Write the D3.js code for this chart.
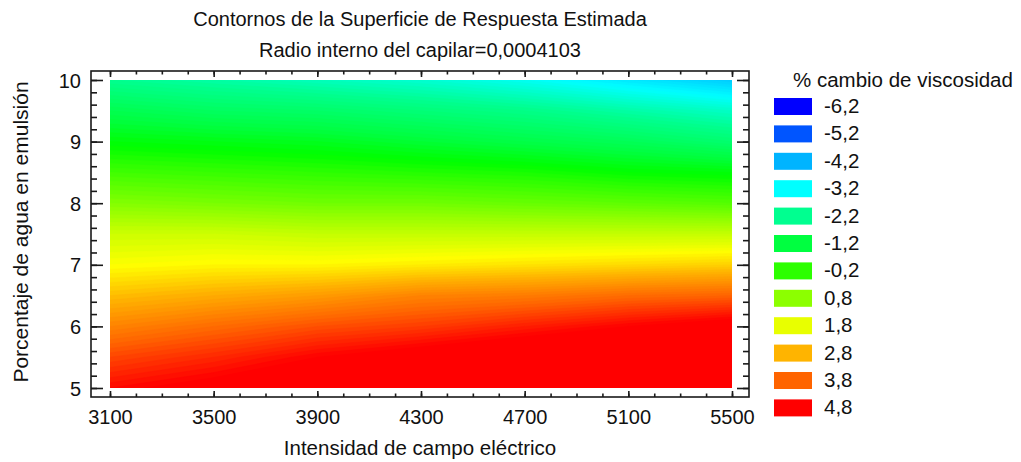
<!DOCTYPE html>
<html>
<head>
<meta charset="utf-8">
<script src="https://cdn.jsdelivr.net/npm/d3@7"></script>
<style>
  html, body { margin: 0; padding: 0; background: #fff; }
  svg { display: block; font-family: "Liberation Sans", Arial, sans-serif; }
</style>
</head>
<body>
<svg id="chart" width="1021" height="462"></svg>
<script>
// ---- data ----
const titleLines = ["Contornos de la Superficie de Respuesta Estimada", "Radio interno del capilar=0,0004103"];
const xTitle = "Intensidad de campo eléctrico";
const yTitle = "Porcentaje de agua en emulsión";
const legendTitle = "% cambio de viscosidad";

// grid columns (x) and rows (y, top to bottom)
const xGrid = [3100, 3500, 3900, 4300, 4700, 5100, 5500];
const yGrid = [10, 9.5, 9, 8.5, 8, 7.5, 7, 6.5, 6, 5.5, 5];
// estimated % change of viscosity, one row per yGrid value
const zRow100 = [-2.2, -2.4, -2.6, -2.8, -3.1, -3.5, -3.9];
const zRow095 = [-1.4, -1.6, -1.7, -1.9, -2.1, -2.4, -2.7];
const zRow090 = [-0.7, -0.8, -0.9, -1.1, -1.3, -1.5, -1.8];
const zRow085 = [0.0, -0.1, -0.2, -0.3, -0.4, -0.6, -0.7];
const zRow080 = [0.7, 0.6, 0.5, 0.5, 0.4, 0.3, 0.2];
const zRow075 = [1.5, 1.5, 1.4, 1.4, 1.4, 1.4, 1.4];
const zRow070 = [2.0, 2.1, 2.1, 2.2, 2.3, 2.4, 2.5];
const zRow065 = [2.7, 2.9, 3.1, 3.4, 3.5, 3.7, 3.8];
const zRow060 = [3.4, 3.7, 4.0, 4.2, 4.5, 4.8, 5.1];
const zRow055 = [4.1, 4.4, 4.8, 5.1, 5.4, 5.6, 5.8];
const zRow050 = [4.7, 5.0, 5.4, 5.8, 6.1, 6.3, 6.5];
const zRows = [zRow100, zRow095, zRow090, zRow085, zRow080, zRow075, zRow070, zRow065, zRow060, zRow055, zRow050];

const xTicks = [3100, 3500, 3900, 4300, 4700, 5100, 5500];
const yTicks = [5, 6, 7, 8, 9, 10];
const legendLevels = [-6.2, -5.2, -4.2, -3.2, -2.2, -1.2, -0.2, 0.8, 1.8, 2.8, 3.8, 4.8];
const legendLabels = ["-6,2", "-5,2", "-4,2", "-3,2", "-2,2", "-1,2", "-0,2", "0,8", "1,8", "2,8", "3,8", "4,8"];
const legendColors = ["#0000ff", "#0055ff", "#00b4ff", "#00ffff", "#00ff90", "#00ff40",
                      "#2cff00", "#8cff00", "#e8ff00", "#ffb400", "#ff6400", "#ff0000"];

// ---- layout ----
const frame = { left: 91, right: 749, top: 71, bottom: 397 };
const svg = d3.select("#chart");
const x = d3.scaleLinear().domain([3100, 5500]).range([110, 732]);
const y = d3.scaleLinear().domain([5, 10]).range([388, 80]);
const color = d3.scaleLinear().domain(legendLevels).range(legendColors)
  .interpolate(d3.interpolateHsl).clamp(true);

// ---- surface (filled contours) ----
svg.append("clipPath").attr("id", "plotclip")
  .append("rect").attr("x", x(3100)).attr("y", y(10))
  .attr("width", x(5500) - x(3100)).attr("height", y(5) - y(10));

const nx = xGrid.length, ny = yGrid.length;
const values = zRows.flat();
const stepX = xGrid[1] - xGrid[0], stepY = yGrid[1] - yGrid[0];
const thresholds = d3.range(-6.6, 7.0, 0.1);
const contours = d3.contours().size([nx, ny]).thresholds(thresholds)(values);
const proj = d3.geoTransform({
  point: function(cx, cy) {
    this.stream.point(x(xGrid[0] + (cx - 0.5) * stepX), y(yGrid[0] + (cy - 0.5) * stepY));
  }
});
const path = d3.geoPath(proj);
svg.append("g").attr("clip-path", "url(#plotclip)")
  .selectAll("path").data(contours).join("path")
  .attr("d", path)
  .attr("fill", d => color(d.value + 0.05))
  .attr("stroke", d => color(d.value + 0.05))
  .attr("stroke-width", 0.6);

// ---- frame & ticks ----
const axisColor = "#1a1a1a";
svg.append("rect")
  .attr("x", frame.left).attr("y", frame.top)
  .attr("width", frame.right - frame.left).attr("height", frame.bottom - frame.top)
  .attr("fill", "none").attr("stroke", axisColor).attr("stroke-width", 1.6);

function styleAxis(g) {
  g.select(".domain").remove();
  g.selectAll("line").attr("stroke", axisColor).attr("stroke-width", 1.6);
}
const xMinor = d3.range(3100, 5501, 100);
const yMinor = d3.range(5, 10.001, 0.2);

svg.append("g").attr("transform", `translate(0,${frame.bottom})`)
  .call(d3.axisBottom(x).tickValues(xMinor).tickSize(-3.5).tickFormat(""))
  .call(styleAxis);
svg.append("g").attr("transform", `translate(0,${frame.top})`)
  .call(d3.axisTop(x).tickValues(xMinor).tickSize(-3.5).tickFormat(""))
  .call(styleAxis);
const xb = svg.append("g").attr("transform", `translate(0,${frame.bottom})`)
  .call(d3.axisBottom(x).tickValues(xTicks).tickSize(-6).tickFormat(d3.format("d")))
  .call(styleAxis);
xb.selectAll("text").attr("y", 27).attr("dy", null)
  .attr("font-size", 20).attr("fill", "#111").attr("font-family", "Liberation Sans, Arial, sans-serif");
svg.append("g").attr("transform", `translate(0,${frame.top})`)
  .call(d3.axisTop(x).tickValues(xTicks).tickSize(-6).tickFormat(""))
  .call(styleAxis);

svg.append("g").attr("transform", `translate(${frame.left},0)`)
  .call(d3.axisLeft(y).tickValues(yMinor).tickSize(-6).tickFormat(""))
  .call(styleAxis);
svg.append("g").attr("transform", `translate(${frame.right},0)`)
  .call(d3.axisRight(y).tickValues(yMinor).tickSize(-6).tickFormat(""))
  .call(styleAxis);
const yl = svg.append("g").attr("transform", `translate(${frame.left},0)`)
  .call(d3.axisLeft(y).tickValues(yTicks).tickSize(-12).tickFormat(d3.format("d")))
  .call(styleAxis);
yl.selectAll("text").attr("x", -10).attr("dy", "0.35em")
  .attr("font-size", 20).attr("fill", "#111").attr("font-family", "Liberation Sans, Arial, sans-serif");
svg.append("g").attr("transform", `translate(${frame.right},0)`)
  .call(d3.axisRight(y).tickValues(yTicks).tickSize(-12).tickFormat(""))
  .call(styleAxis);

// ---- titles ----
const cx = (frame.left + frame.right) / 2;
svg.append("text").attr("x", cx).attr("y", 26).attr("text-anchor", "middle")
  .attr("font-size", 20).attr("fill", "#111").text(titleLines[0]);
svg.append("text").attr("x", cx).attr("y", 57).attr("text-anchor", "middle")
  .attr("font-size", 20).attr("fill", "#111").text(titleLines[1]);
svg.append("text").attr("x", cx).attr("y", 455).attr("text-anchor", "middle")
  .attr("font-size", 20.5).attr("fill", "#111").text(xTitle);
svg.append("text").attr("transform", `translate(28,${(frame.top + frame.bottom) / 2 - 2}) rotate(-90)`)
  .attr("text-anchor", "middle").attr("font-size", 21).attr("fill", "#111").text(yTitle);

// ---- legend ----
const lg = svg.append("g");
lg.append("text").attr("x", 793).attr("y", 87).attr("font-size", 20.5).attr("fill", "#111").text(legendTitle);
const items = lg.selectAll("g.item").data(legendLevels.slice()).join("g")
  .attr("class", "item")
  .attr("transform", (d, i) => `translate(774,${98 + i * 27.4})`);
items.append("rect").attr("width", 38).attr("height", 17).attr("fill", (d, i) => legendColors[i]);
items.append("text").attr("x", 50).attr("y", 15).attr("font-size", 20.5).attr("fill", "#111")
  .text((d, i) => legendLabels[i]);
</script>
</body>
</html>
